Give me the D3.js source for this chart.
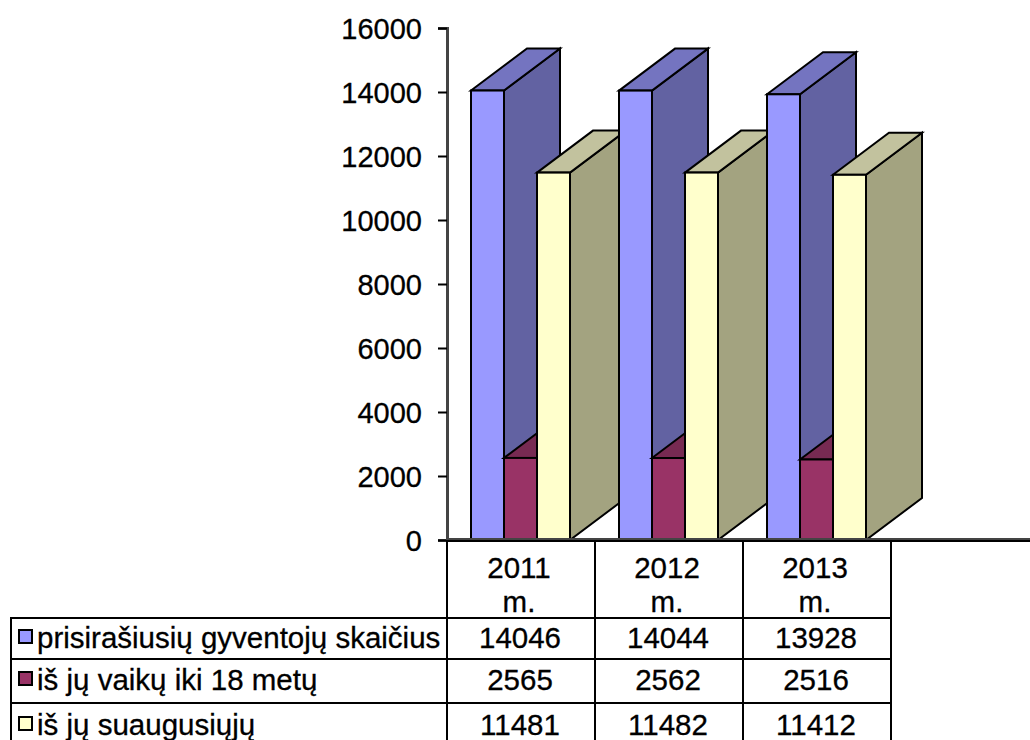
<!DOCTYPE html>
<html>
<head>
<meta charset="utf-8">
<script src="https://cdn.jsdelivr.net/npm/d3@7"></script>
<style>
    html, body { margin: 0; padding: 0; background: #fff; overflow: hidden; }
    text { font-family: "Liberation Sans", Arial, sans-serif; fill: #000; stroke: #000; stroke-width: 0.3px; }
</style>
</head>
<body>
<div id="chart"></div>
<script>
const years = ["2011", "2012", "2013"];
const seriesNames = ["prisirašiusių gyventojų skaičius", "iš jų vaikų iki 18 metų", "iš jų suaugusiųjų"];
const totalPeople = [14046, 14044, 13928];
const children = [2565, 2562, 2516];
const adults = [11481, 11482, 11412];
const yTicks = [0, 2000, 4000, 6000, 8000, 10000, 12000, 14000, 16000];

const seriesValues = [totalPeople, children, adults];
const seriesColors = [
    { front: "#9999ff", top: "#7474c0", side: "#6262a2" },
    { front: "#993366", top: "#772a52", side: "#6e2549" },
    { front: "#ffffcc", top: "#c2c29e", side: "#a3a380" }
];

const width = 1030, height = 740;
const axisX = 447, baseY = 540, topY = 28;
const depthX = 56, depthY = 42;
const fontSize = "29.5px";
// column lines of the data table
const tableLeft = 10, tableRight = 891;
const rowLines = [618, 659, 703];

const svg = d3.select("#chart")
    .append("svg")
    .attr("width", width)
    .attr("height", height);

const y = d3.scaleLinear().domain([0, 16000]).range([baseY, topY]);

const x = d3.scaleBand()
    .domain(years)
    .range([axisX, tableRight]);

const xSeries = d3.scaleBand()
    .domain(d3.range(seriesNames.length))
    .range([24, 24 + 99]);

// 3D bars, painted left to right so later ones cover earlier sides
const line = d3.line();
years.forEach((year, i) => {
    seriesValues.forEach((values, s) => {
        const x0 = x(year) + xSeries(s);
        const x1 = x0 + xSeries.bandwidth();
        const y0 = y(values[i]);
        const g = svg.append("g")
            .attr("stroke", "#000")
            .attr("stroke-width", 2)
            .attr("stroke-linejoin", "miter");
        g.append("path")
            .attr("d", line([[x1, y0], [x1 + depthX, y0 - depthY], [x1 + depthX, baseY - depthY], [x1, baseY]]) + "Z")
            .attr("fill", seriesColors[s].side);
        g.append("path")
            .attr("d", line([[x0, y0], [x0 + depthX, y0 - depthY], [x1 + depthX, y0 - depthY], [x1, y0]]) + "Z")
            .attr("fill", seriesColors[s].top);
        g.append("rect")
            .attr("x", x0)
            .attr("y", y0)
            .attr("width", x1 - x0)
            .attr("height", baseY - y0)
            .attr("fill", seriesColors[s].front);
    });
});

// Y axis
const yAxis = svg.append("g")
    .attr("transform", `translate(${axisX},0)`)
    .call(d3.axisLeft(y).tickValues(yTicks).tickFormat(d3.format("d")).tickSize(9).tickPadding(16));
yAxis.select(".domain").attr("stroke", "#444").attr("stroke-width", 3);
yAxis.selectAll(".tick line").attr("stroke", "#000").attr("stroke-width", 2);
yAxis.selectAll(".tick text")
    .style("font-size", "29px")
    .attr("dy", "0.35em");

// Data table lines
const lines = svg.append("g").attr("stroke", "#000");
lines.append("line")
    .attr("x1", axisX - 1).attr("x2", width)
    .attr("y1", baseY - 1).attr("y2", baseY - 1)
    .attr("stroke", "#444").attr("stroke-width", 2);
lines.append("line")
    .attr("x1", axisX - 1).attr("x2", width)
    .attr("y1", baseY + 1).attr("y2", baseY + 1)
    .attr("stroke-width", 2);
rowLines.forEach(ry => {
    lines.append("line")
        .attr("x1", tableLeft).attr("x2", tableRight)
        .attr("y1", ry).attr("y2", ry)
        .attr("stroke-width", 2);
});
lines.append("line")
    .attr("x1", tableLeft + 1).attr("x2", tableLeft + 1)
    .attr("y1", rowLines[0]).attr("y2", height)
    .attr("stroke-width", 2);
x.domain().forEach(d => {
    lines.append("line")
        .attr("x1", x(d)).attr("x2", x(d))
        .attr("y1", baseY).attr("y2", height)
        .attr("stroke-width", 2);
});
lines.append("line")
    .attr("x1", tableRight).attr("x2", tableRight)
    .attr("y1", baseY).attr("y2", height)
    .attr("stroke-width", 2);

// Header cells
years.forEach(year => {
    const cx = x(year) + x.bandwidth() / 2 - 2;
    svg.append("text").attr("x", cx).attr("y", 578).attr("text-anchor", "middle")
        .style("font-size", fontSize).text(year);
    svg.append("text").attr("x", cx).attr("y", 612).attr("text-anchor", "middle")
        .style("font-size", fontSize).text("m.");
});

// Series rows
const rowBase = [648, 690, 735];
seriesNames.forEach((name, s) => {
    svg.append("rect")
        .attr("x", 19).attr("y", rowBase[s] - 18)
        .attr("width", 13).attr("height", 13)
        .attr("fill", seriesColors[s].front)
        .attr("stroke", "#000").attr("stroke-width", 2);
    svg.append("text").attr("x", 37).attr("y", rowBase[s])
        .style("font-size", fontSize).text(name);
    years.forEach((year, i) => {
        svg.append("text")
            .attr("x", x(year) + x.bandwidth() / 2 - 1)
            .attr("y", rowBase[s])
            .attr("text-anchor", "middle")
            .style("font-size", fontSize)
            .text(seriesValues[s][i]);
    });
});
</script>
</body>
</html>
